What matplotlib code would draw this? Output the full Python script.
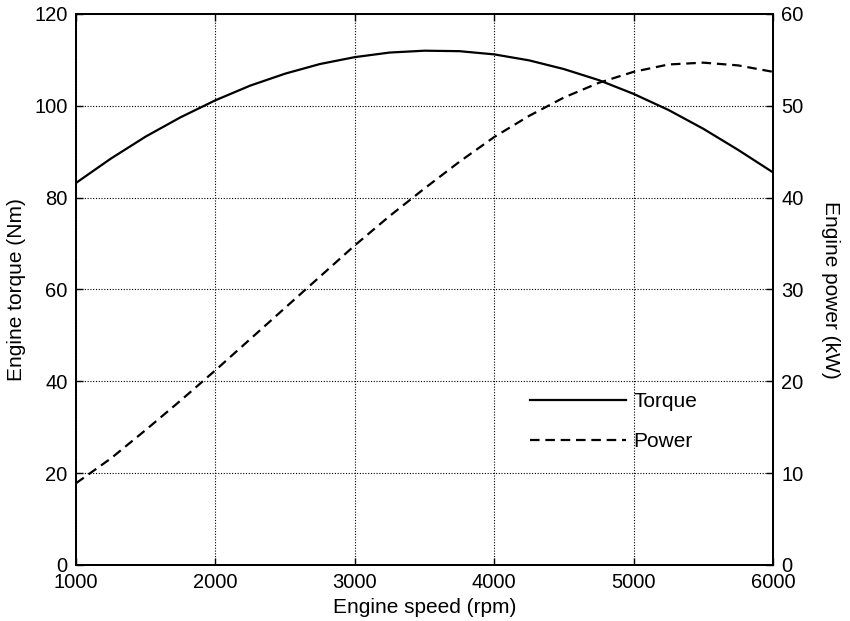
import numpy as np
import matplotlib.pyplot as plt

plt.rcParams['font.family'] = ['Liberation Sans', 'DejaVu Sans']
plt.rcParams['font.size'] = 15

# engine speed (rpm)
speed = [1000, 1250, 1500, 1750, 2000, 2250, 2500, 2750, 3000, 3250, 3500,
         3750, 4000, 4250, 4500, 4750, 5000, 5250, 5500, 5750, 6000]
# engine torque (Nm)
torque = [83.2, 88.5, 93.3, 97.5, 101.2, 104.4, 107.0, 109.1, 110.6, 111.6, 112.0,
          111.9, 111.2, 109.9, 108.0, 105.6, 102.6, 99.1, 95.0, 90.4, 85.5]
# engine power (kW)
power = [8.9, 11.6, 14.7, 17.9, 21.2, 24.6, 28.0, 31.4, 34.8, 38.0, 41.0,
         43.9, 46.6, 48.9, 50.9, 52.5, 53.7, 54.5, 54.7, 54.4, 53.7]

fig = plt.figure(figsize=(8.5, 6.21), dpi=100)
ax = fig.add_axes([0.0894, 0.0902, 0.8200, 0.8873])
ax2 = ax.twinx()

l1, = ax.plot(speed, torque, color='black', lw=1.6, label='Torque')
l2, = ax2.plot(speed, power, color='black', lw=1.6, linestyle=(0, (4.3, 2.6)), label='Power')

ax.set_xlim(1000, 6000)
ax.set_ylim(0, 120)
ax2.set_ylim(0, 60)
ax.set_xticks(np.arange(1000, 6001, 1000))
ax.set_yticks(np.arange(0, 121, 20))
ax2.set_yticks(np.arange(0, 61, 10))

ax.grid(True, color='black', linestyle=(0, (1, 1.5)), linewidth=0.8)

ax.tick_params(direction='in', length=5, width=1, top=True, right=False, pad=6,
               labelsize=14.5)
ax2.tick_params(direction='in', length=5, width=1, pad=6, labelsize=14.5)

for sp in ax.spines.values():
    sp.set_linewidth(1.4)
for sp in ax2.spines.values():
    sp.set_linewidth(1.4)

ax.set_xlabel('Engine speed (rpm)', labelpad=4)
ax.set_ylabel('Engine torque (Nm)', labelpad=6)
ax2.set_ylabel('Engine power (kW)', rotation=-90, labelpad=26)

ax.legend(handles=[l1, l2], loc='center left', bbox_to_anchor=(0.652, 0.26),
          frameon=False, handlelength=4.6, handletextpad=0.35, labelspacing=1.0,
          borderpad=0, borderaxespad=0)

fig.savefig('out.png', dpi=100)
